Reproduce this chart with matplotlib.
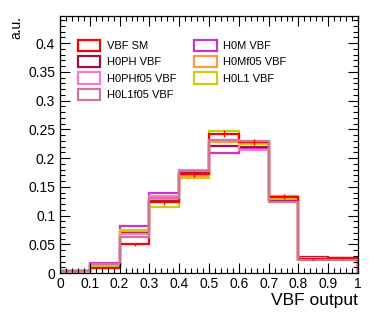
import numpy as np
import matplotlib
matplotlib.use("Agg")
import matplotlib.pyplot as plt
from matplotlib.patches import Patch
from matplotlib.ticker import MultipleLocator, FuncFormatter

plt.rcParams['font.family'] = ['Liberation Sans', 'DejaVu Sans']

edges = np.linspace(0, 1, 11)

labels = ["VBF SM", "H0PH VBF", "H0PHf05 VBF", "H0L1f05 VBF",
          "H0M VBF", "H0Mf05 VBF", "H0L1 VBF"]
colors = ["#ff0000", "#a0123f", "#ff77cc", "#cc7799",
          "#cc33cc", "#ff9944", "#cccc11"]

sm      = [0.003, 0.008, 0.050, 0.123, 0.172, 0.242, 0.228, 0.133, 0.025, 0.026]
h0ph    = [0.003, 0.012, 0.071, 0.125, 0.174, 0.221, 0.219, 0.125, 0.028, 0.027]
h0phf05 = [0.004, 0.014, 0.068, 0.134, 0.180, 0.231, 0.214, 0.128, 0.024, 0.024]
h0l1f05 = [0.004, 0.015, 0.063, 0.131, 0.177, 0.232, 0.230, 0.124, 0.022, 0.023]
h0m     = [0.003, 0.017, 0.082, 0.140, 0.176, 0.209, 0.215, 0.127, 0.025, 0.025]
h0mf05  = [0.003, 0.014, 0.073, 0.128, 0.169, 0.228, 0.226, 0.134, 0.026, 0.026]
h0l1    = [0.003, 0.013, 0.074, 0.115, 0.165, 0.247, 0.224, 0.130, 0.025, 0.025]
sm_err  = [0.0005, 0.001, 0.003, 0.004, 0.005, 0.006, 0.005, 0.004, 0.002, 0.002]

series = [sm, h0ph, h0phf05, h0l1f05, h0m, h0mf05, h0l1]

fig = plt.figure(figsize=(3.74, 3.16), dpi=100)
ax = fig.add_axes([0.1604, 0.136, 0.797, 0.813])

# draw order: rose one ends up on top, as in the original
order = [4, 1, 2, 5, 6, 0, 3]
for i in order:
    ax.stairs(series[i], edges, color=colors[i], lw=1.6)
centers = 0.5 * (edges[:-1] + edges[1:])
ax.errorbar(centers, sm, yerr=sm_err, fmt='none', ecolor=colors[0], elinewidth=1, capsize=0)

ax.set_xlim(0, 1)
ax.set_ylim(0, 0.447)
ax.xaxis.set_major_locator(MultipleLocator(0.1))
ax.xaxis.set_minor_locator(MultipleLocator(0.02))
ax.yaxis.set_major_locator(MultipleLocator(0.05))
ax.yaxis.set_minor_locator(MultipleLocator(0.01))
fmt = FuncFormatter(lambda v, p: "0" if abs(v) < 1e-9 else ("1" if abs(v - 1) < 1e-9 else f"{v:g}"))
ax.xaxis.set_major_formatter(fmt)
ax.yaxis.set_major_formatter(fmt)
ax.tick_params(which='both', direction='in', top=True, right=True, labelsize=10)
ax.tick_params(which='major', length=7, width=0.8)
ax.tick_params(which='minor', length=3.5, width=0.8)
ax.tick_params(axis='x', pad=3)
for s in ax.spines.values():
    s.set_linewidth(0.9)

ax.set_xlabel("VBF output", fontsize=12.5, loc='right', labelpad=1)
ax.set_ylabel("a.u.", fontsize=10, loc='top', labelpad=3)

handles = [Patch(facecolor='none', edgecolor=c, lw=1.6) for c in colors]
ax.legend(handles, labels, ncol=2, loc='upper left', bbox_to_anchor=(0.046, 0.926),
          frameon=False, fontsize=8, handlelength=2.0, handleheight=1.2,
          labelspacing=0.45, columnspacing=1.6, handletextpad=0.6, borderaxespad=0)

fig.savefig("out.png", dpi=100)
